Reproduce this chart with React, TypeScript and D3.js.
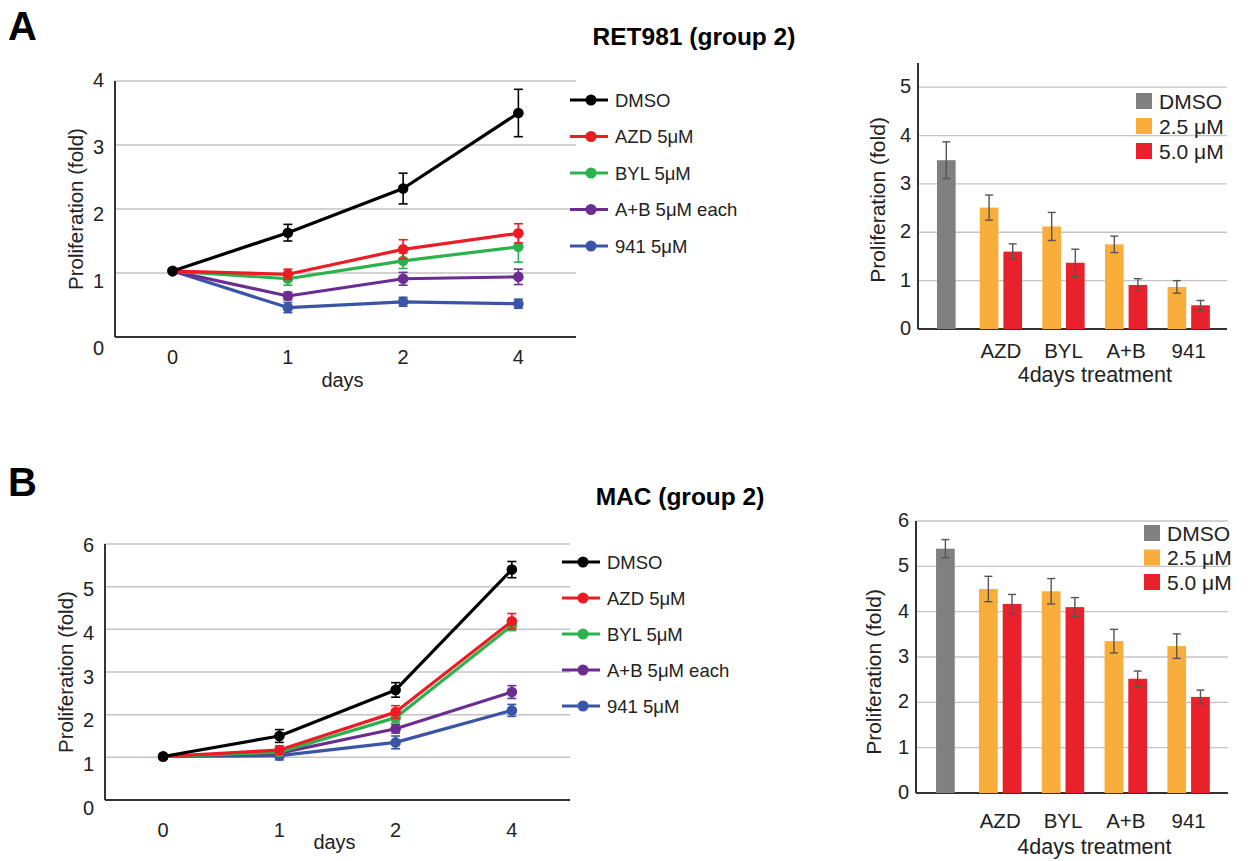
import React, { useEffect, useRef } from 'react';
import * as d3 from 'd3';

// ---- data ----
const days = ['0', '1', '2', '4'];
const lineSeries = ['DMSO', 'AZD 5μM', 'BYL 5μM', 'A+B 5μM each', '941 5μM'];
const lineColors = ['#000000', '#ed1c24', '#2bb24c', '#6b2d91', '#3a55a5'];

// RET981 line chart (mean, error)
const retMeans = [
  [1.03, 1.63, 2.32, 3.5],
  [1.03, 0.98, 1.37, 1.62],
  [1.03, 0.91, 1.19, 1.41],
  [1.03, 0.64, 0.91, 0.94],
  [1.03, 0.46, 0.55, 0.52],
];
const retErrs = [
  [0, 0.13, 0.24, 0.37],
  [0, 0.08, 0.15, 0.15],
  [0, 0.1, 0.12, 0.24],
  [0, 0.06, 0.1, 0.12],
  [0, 0.08, 0.07, 0.07],
];

// MAC line chart
const macMeans = [
  [1.02, 1.5, 2.58, 5.4],
  [1.02, 1.17, 2.06, 4.19],
  [1.02, 1.12, 1.93, 4.09],
  [1.02, 1.1, 1.67, 2.53],
  [1.02, 1.04, 1.35, 2.1],
];
const macErrs = [
  [0, 0.15, 0.17, 0.19],
  [0, 0.1, 0.15, 0.18],
  [0, 0.08, 0.12, 0.12],
  [0, 0.08, 0.1, 0.15],
  [0, 0.1, 0.15, 0.14],
];

// bar charts (4 days treatment)
const barGroups = ['DMSO', 'AZD', 'BYL', 'A+B', '941'];
const drugs = ['AZD', 'BYL', 'A+B', '941'];
const doses = ['2.5 μM', '5.0 μM'];
const barLegend = ['DMSO', '2.5 μM', '5.0 μM'];
const barColors = ['#808080', '#f9ad3a', '#e8212a'];

const retDmso = 3.49;
const retDmsoErr = 0.38;
const ret25 = [2.51, 2.12, 1.75, 0.87];
const ret25Err = [0.26, 0.29, 0.17, 0.13];
const ret50 = [1.6, 1.37, 0.91, 0.49];
const ret50Err = [0.16, 0.28, 0.13, 0.1];

const macDmso = 5.39;
const macDmsoErr = 0.2;
const mac25 = [4.5, 4.45, 3.35, 3.24];
const mac25Err = [0.28, 0.28, 0.26, 0.27];
const mac50 = [4.17, 4.1, 2.52, 2.12];
const mac50Err = [0.21, 0.21, 0.17, 0.15];

const FONT = '"Liberation Sans", Arial, sans-serif';

function drawLineChart(svg, opt) {
  const { left, right, top, bottom, yMax, labelTop, labelBottom, means, errs, legendX, legendY, legendStep, xLabelY, titleX, daysY } = opt;
  const g = svg.append('g');

  const x = d3.scaleBand().domain(days).range([left, right]);
  const y = d3.scaleLinear().domain([0, yMax]).range([bottom, top]);
  // Excel-ish label placement drifts slightly off the gridlines
  const yLab = d3.scaleLinear().domain([0, yMax]).range([labelBottom, labelTop]);
  const ticks = d3.range(0, yMax + 1);

  g.selectAll('.grid')
    .data(ticks.filter(t => t > 0))
    .enter().append('line')
    .attr('x1', left).attr('x2', right)
    .attr('y1', d => y(d)).attr('y2', d => y(d))
    .attr('stroke', '#c4c4c4').attr('stroke-width', 1.5);

  g.append('line').attr('x1', left).attr('x2', left).attr('y1', y(yMax)).attr('y2', y(0))
    .attr('stroke', '#333').attr('stroke-width', 2);
  g.append('line').attr('x1', left).attr('x2', right).attr('y1', y(0)).attr('y2', y(0))
    .attr('stroke', '#333').attr('stroke-width', 2);

  g.selectAll('.ylab')
    .data(ticks)
    .enter().append('text')
    .attr('x', left - 11).attr('y', d => yLab(d))
    .attr('text-anchor', 'end').attr('dominant-baseline', 'central')
    .attr('font-size', 20).attr('font-family', FONT).attr('fill', '#222')
    .text(d => d);

  g.selectAll('.xlab')
    .data(days)
    .enter().append('text')
    .attr('x', d => x(d) + x.bandwidth() / 2).attr('y', xLabelY)
    .attr('text-anchor', 'middle').attr('dominant-baseline', 'central')
    .attr('font-size', 20).attr('font-family', FONT).attr('fill', '#222')
    .text(d => d);

  g.append('text')
    .attr('x', (left + right) / 2 - 3).attr('y', daysY)
    .attr('text-anchor', 'middle').attr('dominant-baseline', 'central')
    .attr('font-size', 20).attr('font-family', FONT).attr('fill', '#222')
    .text('days');

  g.append('text')
    .attr('transform', `translate(${titleX}, ${(top + bottom) / 2}) rotate(-90)`)
    .attr('text-anchor', 'middle').attr('dominant-baseline', 'central')
    .attr('font-size', 20.5).attr('font-family', FONT).attr('fill', '#222')
    .text('Proliferation (fold)');

  const cx = d => x(d) + x.bandwidth() / 2;
  const line = d3.line().x((d, i) => cx(days[i])).y(d => y(d));

  // draw bottom series first so black ends on top like the figure
  for (let s = lineSeries.length - 1; s >= 0; s--) {
    const col = lineColors[s];
    const sg = g.append('g');
    sg.append('path').datum(means[s]).attr('d', line)
      .attr('fill', 'none').attr('stroke', col).attr('stroke-width', 3.2)
      .attr('stroke-linejoin', 'round');
    means[s].forEach((m, i) => {
      const e = errs[s][i];
      if (e > 0) {
        sg.append('line').attr('x1', cx(days[i])).attr('x2', cx(days[i]))
          .attr('y1', y(m - e)).attr('y2', y(m + e)).attr('stroke', col).attr('stroke-width', 1.6);
        [m - e, m + e].forEach(v => {
          sg.append('line').attr('x1', cx(days[i]) - 4.5).attr('x2', cx(days[i]) + 4.5)
            .attr('y1', y(v)).attr('y2', y(v)).attr('stroke', col).attr('stroke-width', 1.6);
        });
      }
      sg.append('circle').attr('cx', cx(days[i])).attr('cy', y(m)).attr('r', 5.3).attr('fill', col);
    });
  }

  const leg = g.append('g').attr('transform', `translate(${legendX}, ${legendY})`);
  lineSeries.forEach((name, i) => {
    const ly = i * legendStep;
    leg.append('line').attr('x1', 0).attr('x2', 38).attr('y1', ly).attr('y2', ly)
      .attr('stroke', lineColors[i]).attr('stroke-width', 3.2);
    leg.append('circle').attr('cx', 21).attr('cy', ly).attr('r', 5.5).attr('fill', lineColors[i]);
    leg.append('text').attr('x', 45).attr('y', ly).attr('dominant-baseline', 'central')
      .attr('font-size', 18.5).attr('font-family', FONT).attr('fill', '#222').text(name);
  });
}

function drawBarChart(svg, opt) {
  const { left, right, top, bottom, rangeLeft, rangeRight, dmsoShift, yMax, tickMax, dmso, dmsoErr, v25, e25, v50, e50, xLabelY, axisTitleY, titleX, titleY, legendX, legendY, legendStep } = opt;
  const g = svg.append('g');

  const x = d3.scaleBand().domain(barGroups).range([rangeLeft, rangeRight]);
  const inner = d3.scaleBand().domain(doses).range([0, x.bandwidth()]).paddingInner(0.21).paddingOuter(0.43);
  const y = d3.scaleLinear().domain([0, yMax]).range([bottom, top]);
  const ticks = d3.range(0, tickMax + 1);
  const bw = inner.bandwidth();

  g.selectAll('.grid')
    .data(ticks.filter(t => t > 0))
    .enter().append('line')
    .attr('x1', left).attr('x2', right)
    .attr('y1', d => y(d)).attr('y2', d => y(d))
    .attr('stroke', '#c4c4c4').attr('stroke-width', 1.3);

  g.append('line').attr('x1', left).attr('x2', left).attr('y1', top).attr('y2', y(0))
    .attr('stroke', '#333').attr('stroke-width', 2);
  g.append('line').attr('x1', left).attr('x2', right).attr('y1', y(0)).attr('y2', y(0))
    .attr('stroke', '#333').attr('stroke-width', 2);

  g.selectAll('.ylab')
    .data(ticks)
    .enter().append('text')
    .attr('x', left - 7).attr('y', d => y(d) - 1)
    .attr('text-anchor', 'end').attr('dominant-baseline', 'central')
    .attr('font-size', 20).attr('font-family', FONT).attr('fill', '#222')
    .text(d => d);

  const errBar = (cx, m, e) => {
    g.append('line').attr('x1', cx).attr('x2', cx).attr('y1', y(m - e)).attr('y2', y(m + e))
      .attr('stroke', '#555').attr('stroke-width', 1.4);
    [m - e, m + e].forEach(v => {
      g.append('line').attr('x1', cx - 4).attr('x2', cx + 4).attr('y1', y(v)).attr('y2', y(v))
        .attr('stroke', '#555').attr('stroke-width', 1.4);
    });
  };

  // DMSO bar sits a little right of its group centre in the figure
  const dx = x('DMSO') + x.bandwidth() / 2 + dmsoShift;
  g.append('rect').attr('x', dx - bw / 2).attr('y', y(dmso)).attr('width', bw).attr('height', y(0) - y(dmso))
    .attr('fill', barColors[0]);
  errBar(dx, dmso, dmsoErr);

  drugs.forEach((d, i) => {
    [[v25, e25, 1], [v50, e50, 2]].forEach(([vals, errs, c], k) => {
      const bx = x(d) + inner(doses[k]);
      g.append('rect').attr('x', bx).attr('y', y(vals[i])).attr('width', bw).attr('height', y(0) - y(vals[i]))
        .attr('fill', barColors[c]);
      errBar(bx + bw / 2, vals[i], errs[i]);
    });
    g.append('text').attr('x', x(d) + x.bandwidth() / 2).attr('y', xLabelY)
      .attr('text-anchor', 'middle').attr('dominant-baseline', 'central')
      .attr('font-size', 20.5).attr('font-family', FONT).attr('fill', '#222').text(d);
  });

  g.append('text').attr('x', (x('AZD') + x('941') + x.bandwidth()) / 2).attr('y', axisTitleY)
    .attr('text-anchor', 'middle').attr('dominant-baseline', 'central')
    .attr('font-size', 21.5).attr('font-family', FONT).attr('fill', '#222').text('4days treatment');

  g.append('text')
    .attr('transform', `translate(${titleX}, ${titleY}) rotate(-90)`)
    .attr('text-anchor', 'middle').attr('dominant-baseline', 'central')
    .attr('font-size', 21).attr('font-family', FONT).attr('fill', '#222')
    .text('Proliferation (fold)');

  const leg = g.append('g').attr('transform', `translate(${legendX}, ${legendY})`);
  barLegend.forEach((name, i) => {
    leg.append('rect').attr('x', 0).attr('y', i * legendStep - 8).attr('width', 16).attr('height', 16)
      .attr('fill', barColors[i]);
    leg.append('text').attr('x', 23).attr('y', i * legendStep).attr('dominant-baseline', 'central')
      .attr('font-size', 21).attr('font-family', FONT).attr('fill', '#222').text(name);
  });
}

const App = () => {
  const svgRef = useRef(null);

  useEffect(() => {
    const svg = d3.select(svgRef.current);
    svg.selectAll('*').remove();
    svg.append('rect').attr('width', 1249).attr('height', 861).attr('fill', '#fff');

    // panel letters and titles
    svg.append('text').attr('x', 8).attr('y', 40).attr('font-size', 40).attr('font-weight', 'bold')
      .attr('font-family', FONT).text('A');
    svg.append('text').attr('x', 8).attr('y', 496).attr('font-size', 40).attr('font-weight', 'bold')
      .attr('font-family', FONT).text('B');
    svg.append('text').attr('x', 694).attr('y', 36).attr('text-anchor', 'middle').attr('dominant-baseline', 'central')
      .attr('font-size', 24.5).attr('font-weight', 'bold').attr('font-family', FONT).text('RET981 (group 2)');
    svg.append('text').attr('x', 680).attr('y', 496).attr('text-anchor', 'middle').attr('dominant-baseline', 'central')
      .attr('font-size', 24.5).attr('font-weight', 'bold').attr('font-family', FONT).text('MAC (group 2)');

    drawLineChart(svg, {
      left: 115, right: 576, top: 81, bottom: 337, yMax: 4, labelTop: 80, labelBottom: 348,
      means: retMeans, errs: retErrs, legendX: 570, legendY: 100, legendStep: 36.5,
      xLabelY: 357, daysY: 380, titleX: 75,
    });
    drawLineChart(svg, {
      left: 105, right: 570, top: 544, bottom: 800, yMax: 6, labelTop: 545, labelBottom: 808,
      means: macMeans, errs: macErrs, legendX: 562, legendY: 562, legendStep: 36,
      xLabelY: 830, daysY: 842, titleX: 65,
    });

    drawBarChart(svg, {
      left: 918, right: 1227, top: 63, bottom: 329, rangeLeft: 907, rangeRight: 1220, dmsoShift: 8,
      yMax: 5.5, tickMax: 5,
      dmso: retDmso, dmsoErr: retDmsoErr, v25: ret25, e25: ret25Err, v50: ret50, e50: ret50Err,
      xLabelY: 350, axisTitleY: 375, titleX: 877, titleY: 200,
      legendX: 1136, legendY: 101, legendStep: 25,
    });
    drawBarChart(svg, {
      left: 916, right: 1228, top: 521, bottom: 793, rangeLeft: 906, rangeRight: 1220, dmsoShift: 8,
      yMax: 6, tickMax: 6,
      dmso: macDmso, dmsoErr: macDmsoErr, v25: mac25, e25: mac25Err, v50: mac50, e50: mac50Err,
      xLabelY: 820, axisTitleY: 847, titleX: 873, titleY: 672,
      legendX: 1144, legendY: 533, legendStep: 24.5,
    });
  }, []);

  return (
    <div style={{ position: 'absolute', left: 0, top: 0 }}>
      <svg ref={svgRef} width={1249} height={861} style={{ display: 'block' }}></svg>
    </div>
  );
};

export default App;
